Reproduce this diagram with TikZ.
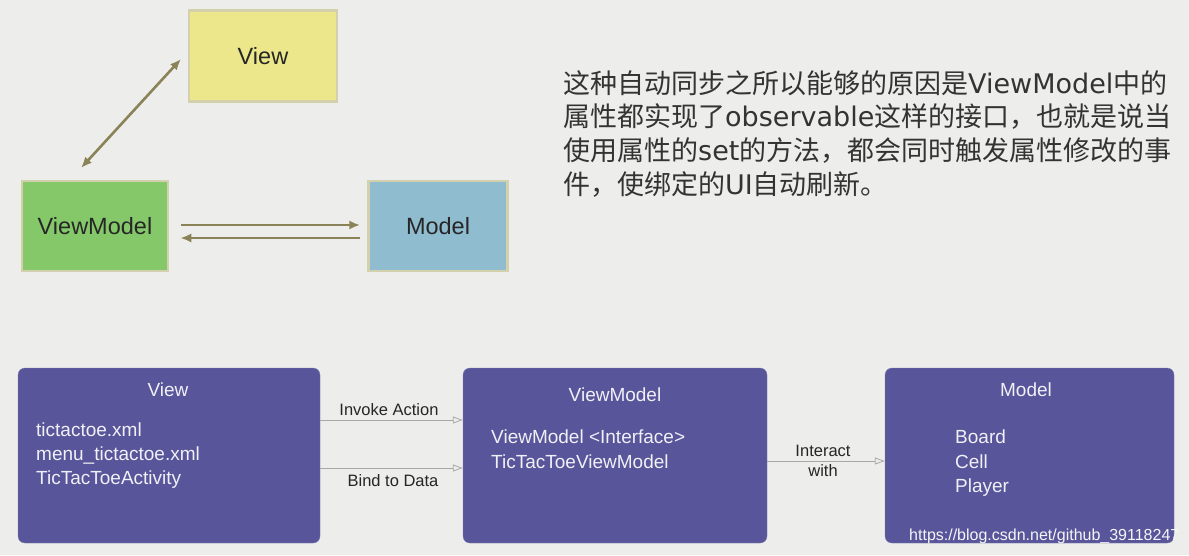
\documentclass[tikz,border=0pt]{standalone}
\usepackage{fontspec}
\setmainfont{Liberation Sans}
\newfontfamily\cjk{Noto Sans CJK SC}
\newfontfamily\lat{DejaVu Sans}
\usetikzlibrary{arrows.meta}
\definecolor{bg}{HTML}{EDEDEB}
\definecolor{yel}{HTML}{EBE78A}
\definecolor{grn}{HTML}{84C86A}
\definecolor{blu}{HTML}{8FBCCF}
\definecolor{tan}{HTML}{D3D0AE}
\definecolor{olive}{HTML}{8A8358}
\definecolor{pur}{HTML}{58559A}
\definecolor{txtw}{HTML}{F0F0F6}
\definecolor{lgray}{HTML}{A8A8A8}
\tikzset{
  topbox/.style={draw=tan, line width=2.5pt, minimum width=146pt, minimum height=90pt, inner sep=0pt, font=\fontsize{23.5}{28}\selectfont, text=black!85},
  olarrow/.style={draw=olive, line width=2.6pt, -{Latex[length=11pt,width=9pt]}},
  purbox/.style={fill=pur, rounded corners=7pt, draw=pur!80!white, minimum height=175pt, inner sep=0pt},
  ptxt/.style={text=txtw, font=\fontsize{19}{22}\selectfont, inner sep=0pt, anchor=west},
  ttl/.style={text=txtw, font=\fontsize{19}{22}\selectfont, inner sep=0pt},
  conn/.style={draw=lgray, line width=0.8pt, -{Triangle[open, length=10pt, width=7pt]}},
  clbl/.style={text=black!85, font=\fontsize{16.5}{19}\selectfont, inner sep=0pt},
  cjkline/.style={anchor=west, inner sep=0pt, text=black!80, font=\cjk\fontsize{27}{30}\selectfont}
}
\begin{document}
\begin{tikzpicture}[x=1pt,y=-1pt]
\fill[bg] (0,0) rectangle (1189,555);
\useasboundingbox (0,0) rectangle (1189,555);
% top diagram
\node[topbox, fill=yel, minimum width=148pt, minimum height=91pt] (view) at (263,56) {View};
\node[topbox, fill=grn, minimum width=146pt, minimum height=90pt] (vm) at (95,226) {ViewModel};
\node[topbox, fill=blu, minimum width=139pt, minimum height=90pt] (model) at (438,226) {Model};
\coordinate (d1) at (81,168);
\coordinate (d2) at (181,59);
\draw[olarrow, {Latex[length=11pt,width=9pt]}-{Latex[length=11pt,width=9pt]}] (d1) -- (d2);
\draw[olarrow] ([xshift=12pt,yshift=1pt]vm.east) -- ([xshift=-7pt,yshift=1pt]model.west);
\draw[olarrow] ([xshift=-7pt,yshift=-12pt]model.west) -- ([xshift=11pt,yshift=-12pt]vm.east);
% chinese text
\node[cjkline] (t1) at (563,83) {这种自动同步之所以能够的原因是{\lat ViewModel}中的};
\node[cjkline] (t2) at (563,117) {属性都实现了{\lat observable}这样的接口，也就是说当};
\node[cjkline] (t3) at (563,151) {使用属性的{\lat set}的方法，都会同时触发属性修改的事};
\node[cjkline] (t4) at (563,185) {件，使绑定的{\lat UI}自动刷新。};
% bottom diagram
\node[purbox, minimum width=302pt] (bview) at (169,455.5) {};
\node[purbox, minimum width=304pt] (bvm) at (615,455.5) {};
\node[purbox, minimum width=289pt] (bmodel) at (1029.5,455.5) {};
\node[ttl] (bviewt) at (168,390) {View};
\node[ptxt] (v1) at (36,430) {tictactoe.xml};
\node[ptxt] (v2) at (36,455) {menu\_tictactoe.xml};
\node[ptxt] (v3) at (36,480) {TicTacToeActivity};
\node[ttl] (bvmt) at (615,395) {ViewModel};
\node[ptxt] (m1) at (491,437) {ViewModel <Interface>};
\node[ptxt] (m2) at (491,462) {TicTacToeViewModel};
\node[ttl] (bmt) at (1026,390) {Model};
\node[ptxt] (o1) at (955,437) {Board};
\node[ptxt] (o2) at (955,462) {Cell};
\node[ptxt] (o3) at (955,488) {Player};
% connectors
\draw[conn] (bview.east |- 0,420) -- (bvm.west |- 0,420);
\draw[conn] (bview.east |- 0,468) -- (bvm.west |- 0,468);
\draw[conn] (bvm.east |- 0,461) -- (bmodel.west |- 0,461);
\node[clbl] (l1) at (389,410) {Invoke Action};
\node[clbl] (l2) at (393,481) {Bind to Data};
\node[clbl] (l3) at (823,451) {Interact};
\node[clbl] (l4) at (823,471) {with};
% watermark
\node[anchor=west, inner sep=0pt, text=white!92!gray, font=\fontsize{16}{19}\selectfont] (wm) at (909,536) {https://blog.csdn.net/github\_39118247};
\end{tikzpicture}
\end{document}
